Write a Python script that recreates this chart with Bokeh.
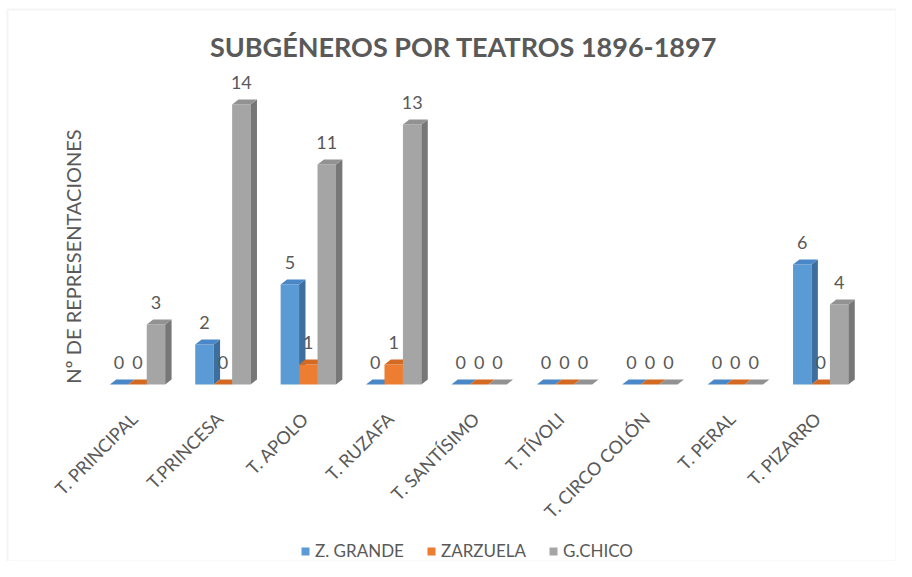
import math
from bokeh.plotting import figure
from bokeh.models import Range1d, Label, Legend, LegendItem, ColumnDataSource, BoxAnnotation
from bokeh.core.properties import value
from bokeh.embed import file_html
from bokeh.resources import INLINE

# ---- data ----
categories = ["T. PRINCIPAL", "T.PRINCESA", "T. APOLO", "T. RUZAFA", "T. SANTÍSIMO",
              "T. TÍVOLI", "T. CIRCO COLÓN", "T. PERAL", "T. PIZARRO"]
series_names = ["Z. GRANDE", "ZARZUELA", "G.CHICO"]
z_grande = [0, 2, 5, 0, 0, 0, 0, 0, 6]
zarzuela = [0, 0, 1, 1, 0, 0, 0, 0, 0]
g_chico = [3, 14, 11, 13, 0, 0, 0, 0, 4]
title_text = "SUBGÉNEROS POR TEATROS 1896-1897"
y_title = "Nº DE REPRESENTACIONES"

# ---- styles ----
front_colors = ["#5B9BD5", "#ED7D31", "#A5A5A5"]
side_colors = ["#3E6E9E", "#B55A1B", "#777777"]
top_colors = ["#4A87C6", "#D46A22", "#929292"]
TXT = "#595959"
FONT = "Lato"

W, H = 896, 561
X0, XS = 137.0, 85.4     # pixel of category 0, pixels per category
Y0, YS = 384.0, 20.0     # pixel of value 0, pixels per unit

bar_w = 0.216
offsets = [-bar_w, 0.0, bar_w]
dx = 0.075   # depth in x (data units)
dy = 0.25    # depth in y (data units)

p = figure(width=W, height=H, output_backend="svg", toolbar_location=None,
           x_range=Range1d(-X0 / XS, (W - X0) / XS),
           y_range=Range1d((Y0 - H) / YS, Y0 / YS),
           min_border=0)
p.outline_line_color = None
p.grid.visible = False
p.axis.visible = False
p.background_fill_color = "white"
p.border_fill_color = "white"

# chart-area border (top & left edges)
p.add_layout(BoxAnnotation(left=(7 - X0) / XS, top=(Y0 - 9) / YS, fill_alpha=0,
                           line_color="#d9d9d9", line_width=2))

all_series = [z_grande, zarzuela, g_chico]
legend_items = []
for s, vals in enumerate(all_series):
    xs_c = [i + offsets[s] for i in range(len(vals))]
    fr = p.vbar(x=xs_c, top=vals, bottom=0, width=bar_w, fill_color=front_colors[s],
                line_color=None)
    side_xs, side_ys, top_xs, top_ys = [], [], [], []
    for c, v in zip(xs_c, vals):
        hw = bar_w / 2
        side_xs.append([c + hw, c + hw + dx, c + hw + dx, c + hw])
        side_ys.append([0, dy, v + dy, v])
        top_xs.append([c - hw, c - hw + dx, c + hw + dx, c + hw])
        top_ys.append([v, v + dy, v + dy, v])
    p.patches(xs=side_xs, ys=side_ys, fill_color=side_colors[s], line_color=None)
    p.patches(xs=top_xs, ys=top_ys, fill_color=top_colors[s], line_color=None)
    legend_items.append(LegendItem(label=series_names[s], renderers=[fr]))

# data labels
for s, vals in enumerate(all_series):
    src = ColumnDataSource(dict(x=[i + offsets[s] for i in range(len(vals))],
                                y=[v + 1.1 for v in vals],
                                t=[str(v) for v in vals]))
    p.text(x="x", y="y", text="t", source=src, text_font=value(FONT), text_font_size="18px",
           text_color=TXT, text_align="center", text_baseline="middle")

# category labels (rotated 45 degrees)
cat_src = ColumnDataSource(dict(x=[i - 0.04 for i in range(len(categories))],
                                y=[-31 / YS] * len(categories),
                                t=categories))
p.text(x="x", y="y", text="t", source=cat_src, angle=math.pi / 4,
       text_font=value(FONT), text_font_size="18px", text_color=TXT,
       text_align="right", text_baseline="middle")

# title
p.add_layout(Label(x=(463 - X0) / XS, y=(Y0 - 46) / YS, text=title_text, text_font=FONT,
                   text_font_size="27px", text_font_style="bold", text_color=TXT,
                   text_align="center", text_baseline="middle"))
# y axis title
p.add_layout(Label(x=(72 - X0) / XS, y=(Y0 - 256) / YS, text=y_title, angle=math.pi / 2,
                   text_font=FONT, text_font_size="20px", text_color=TXT,
                   text_align="center", text_baseline="middle"))

legend = Legend(items=legend_items, orientation="horizontal", location=(300, 0),
                glyph_width=10, glyph_height=10, label_standoff=5, spacing=22,
                label_text_font=FONT, label_text_font_size="17px", label_text_color=TXT,
                border_line_color=None, background_fill_alpha=0, padding=0, margin=0)
p.add_layout(legend, "center")

open("out.html", "w").write(file_html(p, INLINE))
